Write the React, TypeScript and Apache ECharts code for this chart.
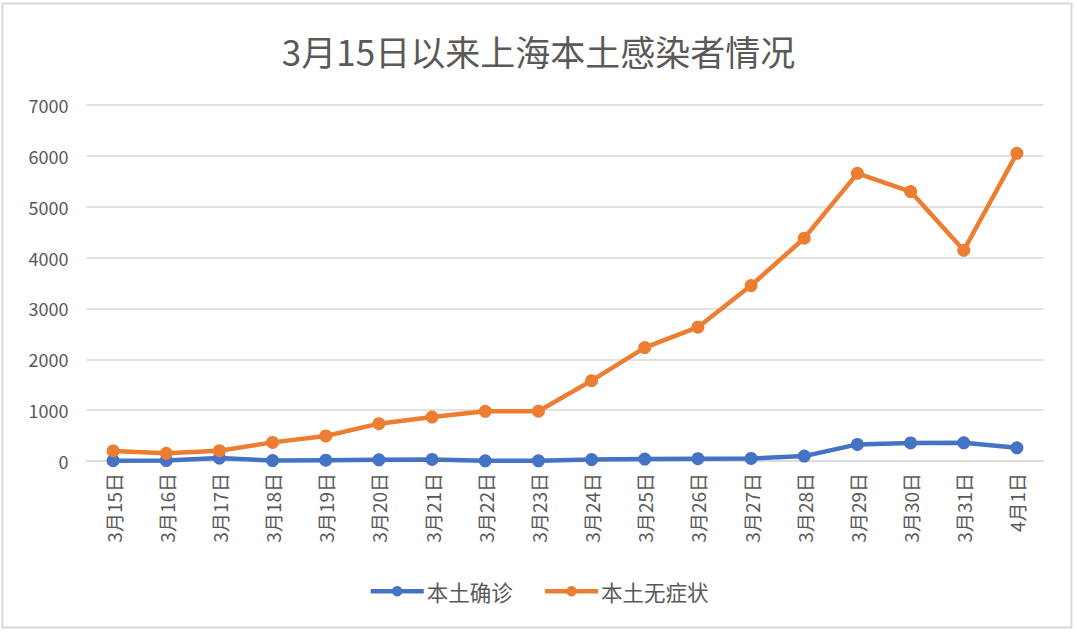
import React, { useEffect, useRef } from "react";
import * as echarts from "echarts";

const categories = ["3月15日","3月16日","3月17日","3月18日","3月19日","3月20日","3月21日","3月22日","3月23日","3月24日","3月25日","3月26日","3月27日","3月28日","3月29日","3月30日","3月31日","4月1日"];
const confirmed = [5, 8, 57, 8, 17, 24, 31, 4, 4, 29, 38, 45, 50, 96, 326, 355, 358, 260];
const asymptomatic = [197, 150, 203, 366, 492, 734, 865, 977, 979, 1580, 2231, 2631, 3450, 4381, 5656, 5298, 4144, 6051];
const titleText = "3月15日以来上海本土感染者情况";
const seriesNames = ["本土确诊", "本土无症状"];

const FONT = "'Noto Sans CJK SC', 'Noto Sans', sans-serif";

export default function App() {
  const ref = useRef<HTMLDivElement>(null);
  useEffect(() => {
    document.body.style.margin = "0";
    const chart = echarts.init(ref.current!, null, { renderer: "svg" });
    chart.setOption({
      animation: false,
      backgroundColor: "#ffffff",
      textStyle: { fontFamily: FONT },
      title: {
        text: titleText,
        left: "center",
        top: 28,
        textStyle: { fontSize: 35, fontWeight: "normal", color: "#595959", fontFamily: FONT },
      },
      graphic: [
        {
          type: "rect",
          shape: { x: 2.5, y: 3.5, width: 1069, height: 624 },
          style: { fill: "none", stroke: "#d9d9d9", lineWidth: 2 },
          silent: true,
        },
      ],
      legend: {
        data: seriesNames.map((n) => ({ name: n, lineStyle: { width: 4.5 } })),
        bottom: 26,
        left: "center",
        itemWidth: 53,
        itemHeight: 13,
        itemGap: 30,
        lineStyle: { width: 4.5 },
        textStyle: { fontSize: 21.5, color: "#595959", fontFamily: FONT, padding: [0, 0, 0, -2] },
      },
      grid: { left: 86.5, right: 33.5, top: 105, bottom: 172, containLabel: false },
      xAxis: {
        type: "category",
        data: categories,
        boundaryGap: true,
        axisLine: { show: true, lineStyle: { color: "#d9d9d9", width: 1.5 } },
        axisTick: { show: false },
        axisLabel: { rotate: 90, fontSize: 19, color: "#595959", margin: 12, fontFamily: FONT, interval: 0 },
      },
      yAxis: {
        type: "value",
        min: 0,
        max: 7000,
        interval: 1000,
        axisLine: { show: false },
        axisTick: { show: false },
        axisLabel: { fontSize: 18, color: "#595959", margin: 18, fontFamily: FONT, formatter: (v: number) => String(v) },
        splitLine: { lineStyle: { color: "#d9d9d9", width: 1.5 } },
      },
      series: [
        {
          name: seriesNames[0],
          type: "line",
          data: confirmed,
          symbol: "circle",
          symbolSize: 13,
          lineStyle: { width: 4.5, color: "#4472C4" },
          itemStyle: { color: "#4472C4" },
        },
        {
          name: seriesNames[1],
          type: "line",
          data: asymptomatic,
          symbol: "circle",
          symbolSize: 13,
          lineStyle: { width: 4.5, color: "#ED7D31" },
          itemStyle: { color: "#ED7D31" },
        },
      ],
    });
    return () => chart.dispose();
  }, []);
  return <div ref={ref} style={{ width: 1077, height: 633 }} />;
}
